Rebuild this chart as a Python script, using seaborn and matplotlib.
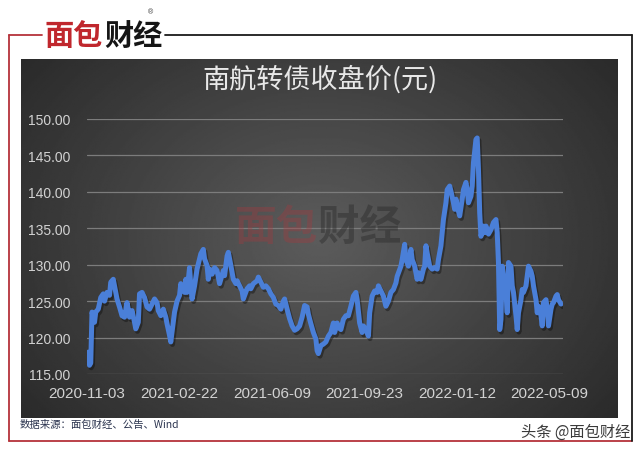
import numpy as np
import pandas as pd
import matplotlib
matplotlib.use("Agg")
import matplotlib.pyplot as plt
import matplotlib.patheffects as pe
from matplotlib.lines import Line2D
import seaborn as sns

# trading-day index (0 = 2020-11-03) and closing price
trade_day = [
    0, 1, 2, 3, 4, 6, 7, 9, 11, 13, 14, 16, 18, 19, 21, 23, 24, 26, 28, 30,
    32, 33, 34, 36, 38, 39, 41, 42, 44, 46, 48, 50, 52, 54, 56, 57, 59, 61, 63, 64,
    66, 67, 68, 70, 72, 74, 75, 76, 78, 79, 80, 82, 83, 84, 86, 87, 88, 90, 91, 93,
    94, 96,
    97, 98, 100, 102, 104, 106, 107, 109, 110, 112, 113, 115, 117, 119, 120, 122,
    124, 125, 128, 130, 131, 133, 136, 137, 139, 141, 143, 145, 147, 149, 151, 153,
    155, 157, 158, 160, 162, 164, 166, 168, 170, 172, 174, 176, 177, 179, 181, 183,
    184, 185, 187, 189, 191,
    193, 195, 197, 198, 200, 201, 203, 205, 207, 209, 211, 213, 215, 216, 218, 220,
    221, 223, 225, 226, 228, 230, 232, 233, 235, 237, 239, 241, 243, 245, 247, 248,
    251, 252, 254, 255, 257, 259, 260, 262, 264, 265, 267, 269, 270, 271, 272, 274,
    276, 278, 280, 281, 283, 284, 285, 287, 288,
    290, 291, 293, 294, 295, 296, 298, 300, 301, 303, 304, 305, 307, 308, 309, 311,
    312, 313, 314, 315, 317, 318, 319, 321, 323, 325, 327, 328, 329, 330, 331, 332,
    333, 335, 336, 337, 339, 340, 341, 343, 344, 345, 347, 348, 349, 351, 352, 353,
    355, 356, 357, 359, 360, 361, 363, 364, 365, 367, 368, 369, 371, 372, 373, 375,
    376, 377, 379,
]
close_price = [
    116.8, 118.0, 116.2, 116.5, 123.5, 122.1, 123.5, 123.9, 125.5, 126.0, 125.0, 126.2,
    125.8, 127.6, 128.0, 126.2, 125.3, 124.2, 123.0, 122.8, 124.8, 123.9, 122.8, 123.7,
    122.1, 121.2, 122.1, 126.0, 126.2, 125.5, 124.2, 123.9, 124.6, 125.3, 124.8, 123.7,
    123.0, 123.9, 122.8, 121.9, 120.3, 119.4, 120.8, 123.5, 125.0, 125.8, 127.4, 126.9,
    126.2, 128.0, 126.2, 129.6, 127.1, 125.3, 127.1, 128.3, 129.4, 130.8, 131.5, 132.1,
    130.8, 129.9,
    128.0, 129.4, 128.7, 129.6, 129.2, 127.4, 128.0, 129.2, 128.5, 131.2, 131.7, 129.9,
    128.0, 127.4, 127.8, 127.1, 126.4, 125.3, 126.7, 127.1, 126.7, 127.4, 127.8, 128.3,
    127.6, 126.9, 127.1, 126.7, 126.0, 125.5, 124.6, 124.4, 123.9, 125.0, 125.3, 123.9,
    122.6, 121.6, 121.0, 121.2, 121.6, 122.8, 124.4, 124.2, 123.2, 121.9, 120.7, 119.8,
    118.2, 117.8, 118.9, 119.1, 119.4,
    120.2, 120.7, 122.0, 120.7, 122.0, 121.4, 121.1, 122.5, 123.0, 123.0, 124.3, 125.7,
    126.2, 125.2, 122.0, 120.7, 121.6, 121.1, 120.2, 123.4, 125.7, 126.4, 126.2, 127.1,
    126.4, 125.7, 124.3, 125.0, 126.2, 126.6, 127.5, 128.4, 129.8, 130.7, 132.8, 130.7,
    129.8, 132.1, 130.7, 129.8, 128.0, 128.9, 128.0, 129.4, 129.8, 132.6, 131.6, 129.8,
    129.4, 129.6, 129.4, 130.7, 132.6, 134.4, 136.2, 138.5, 140.3,
    140.8, 140.1, 138.5, 137.6, 139.0, 138.0, 136.7, 139.0, 140.3, 141.3, 140.3, 138.5,
    139.4, 140.8, 144.0, 147.2, 147.4, 143.1, 137.1, 133.9, 135.3, 134.4, 135.3, 134.2,
    134.8, 135.8, 136.2, 134.4, 130.3, 121.1, 122.5, 129.8, 128.4, 126.2, 123.4, 130.3,
    129.8, 127.1, 126.2, 123.0, 121.1, 123.4, 125.2, 126.6, 126.2, 127.1, 128.4, 129.8,
    129.1, 128.4, 127.1, 125.2, 123.4, 124.3, 123.0, 121.6, 124.8, 125.2, 123.9, 121.6,
    123.9, 124.6, 124.8, 125.7, 125.9, 125.2, 124.6,
]
tick_days = [0, 74, 148, 222, 296, 370]
tick_dates = ["2020-11-03", "2021-02-22", "2021-06-09", "2021-09-23", "2022-01-12", "2022-05-09"]
y_ticks = [115, 120, 125, 130, 135, 140, 145, 150]

df = pd.DataFrame({"day": trade_day, "price": close_price})

sns.set_style("white")
plt.rcParams["font.family"] = ["Liberation Sans", "Noto Sans CJK SC", "DejaVu Sans"]
cjk = ["Noto Sans CJK SC", "DejaVu Sans"]

W, H = 640, 452
fig = plt.figure(figsize=(W / 100, H / 100), dpi=100)
fig.patch.set_facecolor("white")


def box(x0, y0, x1, y1):
    # pixel box -> figure fraction rect
    return [x0 / W, 1 - y1 / H, (x1 - x0) / W, (y1 - y0) / H]


# dark panel with a soft radial gradient
bg = fig.add_axes(box(21, 60, 618, 419))
yy, xx = np.mgrid[0:1:240j, 0:1:400j]
r = np.sqrt(((xx - 0.5) / 0.62) ** 2 + ((yy - 0.5) / 0.8) ** 2)
shade = np.clip(0.36 - 0.19 * r, 0.15, 1)
bg.imshow(shade, cmap="gray", vmin=0, vmax=1, aspect="auto", extent=[0, 1, 0, 1])
bg.axis("off")

# main plot
ax = fig.add_axes(box(87, 120, 563, 375))
ax.set_facecolor("none")
ax.set_axisbelow(True)

# faint watermark behind the line
ax.text(0.485, 0.576, "面包", transform=ax.transAxes, ha="right", va="center",
        fontsize=30, fontweight="bold", family=cjk, color="#a8383d", alpha=0.35, zorder=1)
ax.text(0.485, 0.576, "财经", transform=ax.transAxes, ha="left", va="center",
        fontsize=30, fontweight="bold", family=cjk, color="#262626", alpha=0.4, zorder=1)

sns.lineplot(data=df, x="day", y="price", ax=ax, color="#4a7fd8", linewidth=3.6,
             estimator=None, sort=False, zorder=3,
             path_effects=[pe.SimpleLineShadow(offset=(1.2, -1.8), shadow_color="black", alpha=0.35),
                           pe.Normal()])

ax.set_xlim(0, 380.6)
ax.set_ylim(115, 150)
ax.set_yticks(y_ticks)
ax.set_yticklabels([f"{v:.2f}" for v in y_ticks])
ax.set_xticks(tick_days)
ax.set_xticklabels(tick_dates)
ax.yaxis.grid(True, color="#7c7c7c", linewidth=0.9)
ax.xaxis.grid(False)
for s in ax.spines.values():
    s.set_visible(False)
ax.tick_params(axis="y", length=0, labelsize=10, labelcolor="#d2d2d2", pad=12)
ax.tick_params(axis="x", length=0, labelsize=11, labelcolor="#d2d2d2", pad=9)
ax.set_xlabel("")
ax.set_ylabel("")

fig.text(320 / W, 1 - 80 / H, "南航转债收盘价(元)", ha="center", va="center",
         fontsize=19.5, color="#e8e8e8", family=cjk)

# frame lines
red = "#b5333a"
fig.add_artist(Line2D([9 / W, 9 / W], [1 - 36 / H, 1 - 442 / H], color=red, lw=1.3))
fig.add_artist(Line2D([9 / W, 42 / W], [1 - 36 / H, 1 - 36 / H], color=red, lw=1.3))
fig.add_artist(Line2D([9 / W, 632 / W], [1 - 442 / H, 1 - 442 / H], color=red, lw=1.3))
fig.add_artist(Line2D([165 / W, 632 / W], [1 - 36 / H, 1 - 36 / H], color="#1a1a1a", lw=1.3))
fig.add_artist(Line2D([632 / W, 632 / W], [1 - 36 / H, 1 - 442 / H], color="#1a1a1a", lw=1.3))

# logo
fig.text(103 / W, 1 - 36 / H, "面包", ha="right", va="center", fontsize=21,
         fontweight="bold", color="#c0272d", family=cjk)
fig.text(104 / W, 1 - 36 / H, "财经", ha="left", va="center", fontsize=21,
         fontweight="bold", color="#151515", family=cjk)
fig.text(150 / W, 1 - 13 / H, "®", ha="center", va="center", fontsize=5, color="#333333")

fig.text(20 / W, 1 - 425 / H, "数据来源：面包财经、公告、Wind", ha="left", va="center",
         fontsize=7.5, color="#2c3550", family=cjk)
fig.text(630 / W, 1 - 432 / H, "头条 @面包财经", ha="right", va="center",
         fontsize=11, color="#3a3a3a", family=cjk)

fig.savefig("out.png", dpi=100)
